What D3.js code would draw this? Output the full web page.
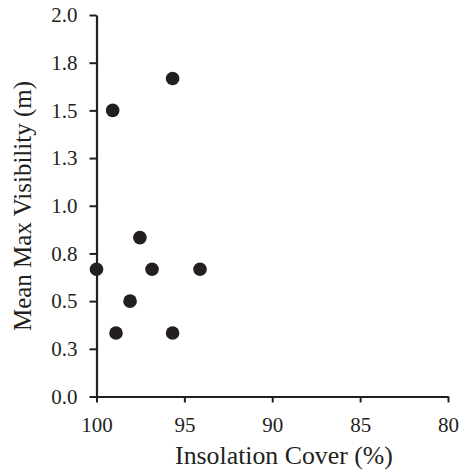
<!DOCTYPE html>
<html>
<head>
<meta charset="utf-8">
<script src="https://cdn.jsdelivr.net/npm/d3@7"></script>
<style>
  body { margin: 0; background: #fff; }
</style>
</head>
<body>
<div id="chart"></div>
<script>
// Data
const insolationCover = [95.67, 99.08, 97.53, 100, 96.84, 94.11, 98.09, 98.89, 95.67];
const maxVisibility = [1.667, 1.5, 0.833, 0.667, 0.667, 0.667, 0.5, 0.333, 0.333];
const xTicks = [100, 95, 90, 85, 80];
const yTicks = [0, 0.25, 0.5, 0.75, 1.0, 1.25, 1.5, 1.75, 2.0];

const points = insolationCover.map((x, i) => ({ x: x, y: maxVisibility[i] }));

const width = 465, height = 474;
const margin = { top: 15, right: 17, bottom: 77.5, left: 96.5 };
const ink = "#231f20";
const serif = "Liberation Serif";

const svg = d3.select("#chart").append("svg")
    .attr("width", width)
    .attr("height", height);

const x = d3.scaleLinear()
    .domain([100, 80])
    .range([margin.left, width - margin.right]);

const y = d3.scaleLinear()
    .domain([0, 2])
    .range([height - margin.bottom, margin.top]);

// axes
const xAxis = svg.append("g")
    .attr("transform", `translate(0,${height - margin.bottom})`)
    .call(d3.axisBottom(x).tickValues(xTicks).tickSize(6).tickPadding(15).tickSizeOuter(0));

const yAxis = svg.append("g")
    .attr("transform", `translate(${margin.left},0)`)
    .call(d3.axisLeft(y).tickValues(yTicks).tickSize(7).tickPadding(12)
        .tickFormat(d => d3.format(".1f")(Math.round(d * 10 + 1e-9) / 10)).tickSizeOuter(0));

[xAxis, yAxis].forEach(a => {
    a.attr("font-family", serif).attr("font-size", 21);
    a.select(".domain").attr("stroke", ink).attr("stroke-width", 2.2);
    a.selectAll(".tick line").attr("stroke", ink).attr("stroke-width", 2);
    a.selectAll(".tick text").attr("fill", ink);
});

// dots
svg.append("g")
    .selectAll("circle")
    .data(points)
    .enter().append("circle")
    .attr("cx", d => x(d.x))
    .attr("cy", d => y(d.y))
    .attr("r", 6.8)
    .attr("fill", ink);

// axis titles
svg.append("text")
    .attr("x", 284)
    .attr("y", 463.5)
    .attr("text-anchor", "middle")
    .attr("font-family", serif)
    .attr("font-size", 25.8)
    .attr("fill", ink)
    .text("Insolation Cover (%)");

svg.append("text")
    .attr("transform", `translate(31,206) rotate(-90)`)
    .attr("text-anchor", "middle")
    .attr("font-family", serif)
    .attr("font-size", 25)
    .attr("fill", ink)
    .text("Mean Max Visibility (m)");
</script>
</body>
</html>
